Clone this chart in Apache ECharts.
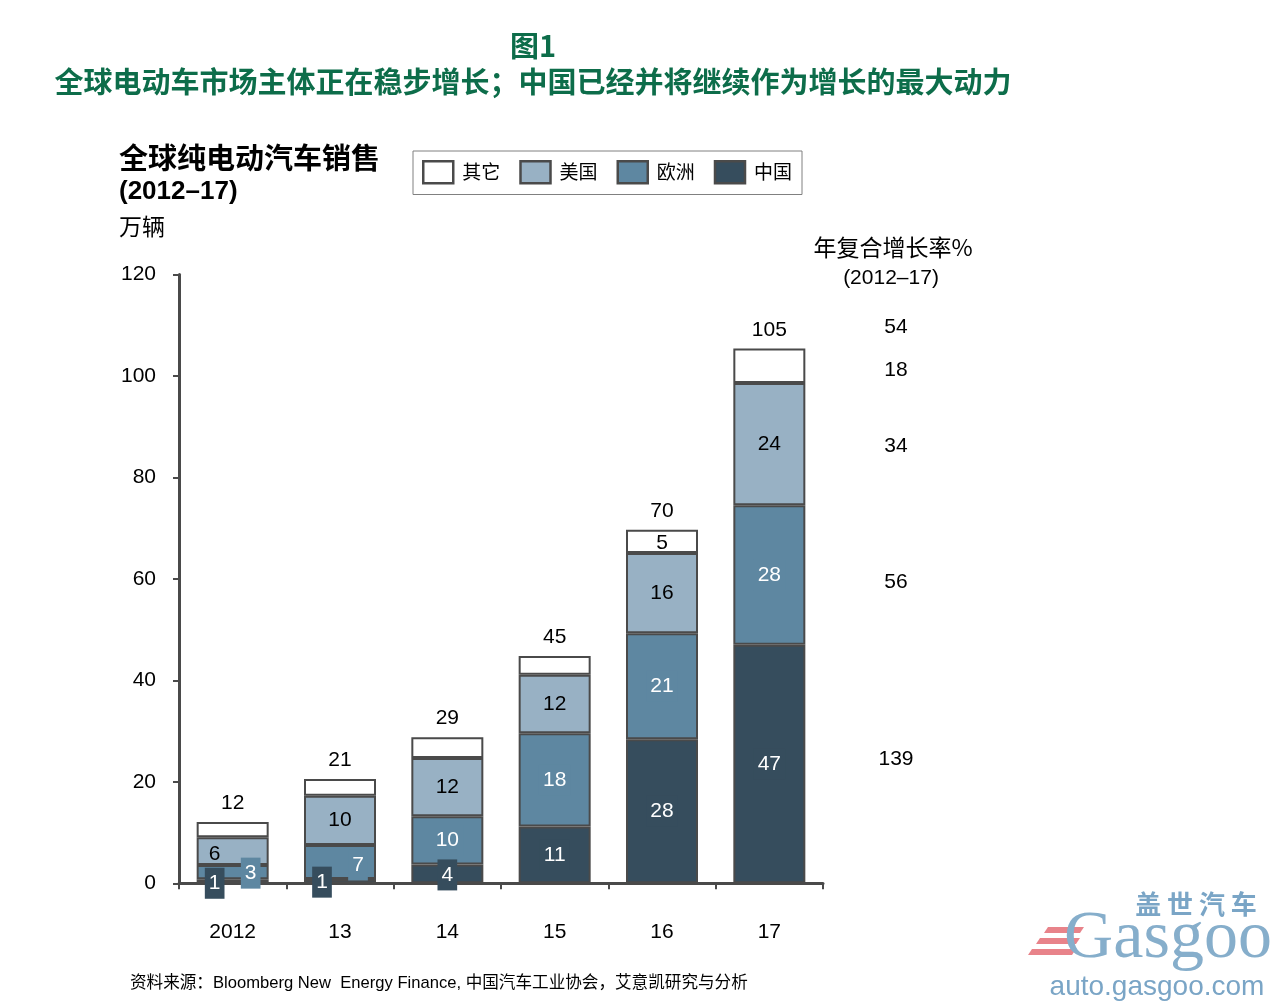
<!DOCTYPE html>
<html><head><meta charset="utf-8">
<script src="https://cdn.jsdelivr.net/npm/echarts@6/dist/echarts.min.js"></script>
<style>html,body{margin:0;padding:0;background:#fff}#c{width:1286px;height:1004px}</style>
</head><body><div id="c"></div>
<script>
// ---- data ----
const categories = ['2012', '13', '14', '15', '16', '17'];
const china  = [0.8, 0.85, 3.7, 11.2, 28.4, 47.0];
const europe = [2.8, 6.7, 9.5, 18.4, 20.9, 27.5];
const usa    = [5.5, 9.7, 11.5, 11.5, 15.8, 24.1];
const other  = [3.0, 3.3, 4.1, 3.7, 4.6, 6.8];
const seriesNames = ['中国', '欧洲', '美国', '其它'];
const cagrValues = ['54', '18', '34', '56', '139'];
const yMin = 0, yMax = 120, yInterval = 20;

// ---- styling ----
const FONT = "'Liberation Sans', 'Noto Sans CJK SC', sans-serif";
const CJK = "'Noto Sans CJK SC', 'Liberation Sans', sans-serif";
const GREEN = '#0d6d4a';
const colors = { china: '#364d5d', europe: '#5e87a1', usa: '#98b1c4', other: '#ffffff' };
const border = '#4a4a4a';
const labelOffset = {
  china:  [[-18, 2], [-18, 1], [0, 1], [0, 0], [0, 0], [0, 0]],
  europe: [[18, 1], [18, 3], [0, 0], [0, 0], [0, 0], [0, 0]],
  usa:    [[-18, 3], [0, 0], [0, 0], [0, 0], [0, 0], [0, 0]]
};
const otherLabelShown = [false, false, false, false, true, false];

const totals = categories.map((_, i) => china[i] + europe[i] + usa[i] + other[i]);

function items(vals, key) {
  return vals.map((v, i) => {
    const it = { value: v };
    if (labelOffset[key]) it.label = { offset: labelOffset[key][i] };
    if (key === 'other') it.label = { show: otherLabelShown[i], offset: [0, 2] };
    return it;
  });
}
function barSeries(name, vals, key, textColor, bg) {
  return {
    name: name, type: 'bar', stack: 'total', barWidth: 72,
    data: items(vals, key),
    itemStyle: { color: colors[key], borderColor: border, borderWidth: 2 },
    label: {
      show: key !== 'other', position: 'inside', fontFamily: FONT, fontSize: 21,
      color: textColor, backgroundColor: bg || 'transparent', padding: bg ? [5, 4] : 0,
      formatter: p => Math.round(p.value)
    },
    emphasis: { disabled: true }
  };
}

const chart = echarts.init(document.getElementById('c'), null, { renderer: 'canvas' });

const txt = (text, x, y, font, fill, align) => ({
  type: 'text', x: x, y: y, silent: true,
  style: { text: text, font: font, fill: fill || '#000', align: align || 'left', textAlign: align || 'left', verticalAlign: 'middle', textVerticalAlign: 'middle' }
});

const cagrY = [327, 370, 446, 582, 759];

const graphics = [
  txt('图1', 533, 46, 'bold 29px ' + CJK, GREEN, 'center'),
  txt('全球电动车市场主体正在稳步增长；中国已经并将继续作为增长的最大动力', 533, 82, 'bold 29px ' + CJK, GREEN, 'center'),
  txt('全球纯电动汽车销售', 119, 158, 'bold 29px ' + CJK, '#000', 'left'),
  txt('(2012–17)', 119, 192, 'bold 26px ' + FONT, '#000', 'left'),
  txt('万辆', 119, 226, '23px ' + CJK, '#000', 'left'),
  txt('年复合增长率%', 893, 247, '23px ' + CJK, '#000', 'center'),
  txt('(2012–17)', 891, 278, '21px ' + FONT, '#000', 'center'),
  txt('资料来源：Bloomberg New  Energy Finance, 中国汽车工业协会，艾意凯研究与分析', 130, 983, '16.6px ' + FONT, '#000', 'left'),
  // watermark
  { type: 'polygon', silent: true, shape: { points: [[1048, 927], [1084, 927], [1080, 933], [1044, 933]] }, style: { fill: '#e8838a' } },
  { type: 'polygon', silent: true, shape: { points: [[1040, 938], [1080, 938], [1076, 944], [1036, 944]] }, style: { fill: '#e8838a' } },
  { type: 'polygon', silent: true, shape: { points: [[1032, 949], [1076, 949], [1072, 955], [1028, 955]] }, style: { fill: '#e8838a' } },
  txt('Gasgoo', 1168, 939, '68px "Liberation Serif", serif', '#86aecb', 'center'),
  txt('盖 世 汽 车', 1196, 904, 'bold 26px ' + CJK, '#7aa5c6', 'center'),
  txt('auto.gasgoo.com', 1157, 987, '28px ' + FONT, '#7aa5c6', 'center')
];
cagrValues.forEach((v, i) => graphics.push(txt(v, 896, cagrY[i], '21px ' + FONT, '#000', 'center')));

chart.setOption({
  animation: false,
  backgroundColor: '#fff',
  textStyle: { fontFamily: FONT },
  legend: {
    left: 413, top: 151, data: ['其它', '美国', '欧洲', '中国'],
    itemWidth: 30, itemHeight: 22, itemGap: 19, padding: [9, 10, 10, 9],
    borderColor: '#808080', borderWidth: 1, icon: 'rect',
    itemStyle: { borderColor: border, borderWidth: 2.5 },
    textStyle: { fontSize: 19, color: '#000', fontFamily: CJK, padding: [0, 0, 0, 4] },
    selectedMode: false
  },
  grid: { left: 179, right: 463, top: 274.5, bottom: 120.7, containLabel: false },
  xAxis: {
    type: 'category', data: categories,
    axisLine: { lineStyle: { color: border, width: 3 } },
    axisTick: { show: true, alignWithLabel: false, length: 6, lineStyle: { color: border, width: 2 } },
    axisLabel: { color: '#000', fontSize: 21, margin: 38, fontFamily: FONT }
  },
  yAxis: {
    type: 'value', min: yMin, max: yMax, interval: yInterval,
    splitLine: { show: false },
    axisLine: { show: true, lineStyle: { color: border, width: 3 } },
    axisTick: { show: true, length: 6, lineStyle: { color: border, width: 2 } },
    axisLabel: { color: '#000', fontSize: 21, margin: 23, fontFamily: FONT }
  },
  series: [
    barSeries('中国', china, 'china', '#fff', colors.china),
    barSeries('欧洲', europe, 'europe', '#fff', colors.europe),
    barSeries('美国', usa, 'usa', '#000'),
    barSeries('其它', other, 'other', '#000'),
    {
      name: 'total', type: 'scatter', data: totals, symbolSize: 0,
      itemStyle: { color: '#ffffff', opacity: 1 }, silent: true, z: 10,
      label: { show: true, position: 'top', distance: 8, color: '#000000', opacity: 1, fontSize: 21, fontFamily: FONT,
        formatter: p => Math.round(p.value) }
    }
  ],
  graphic: graphics
});
</script>
</body></html>
